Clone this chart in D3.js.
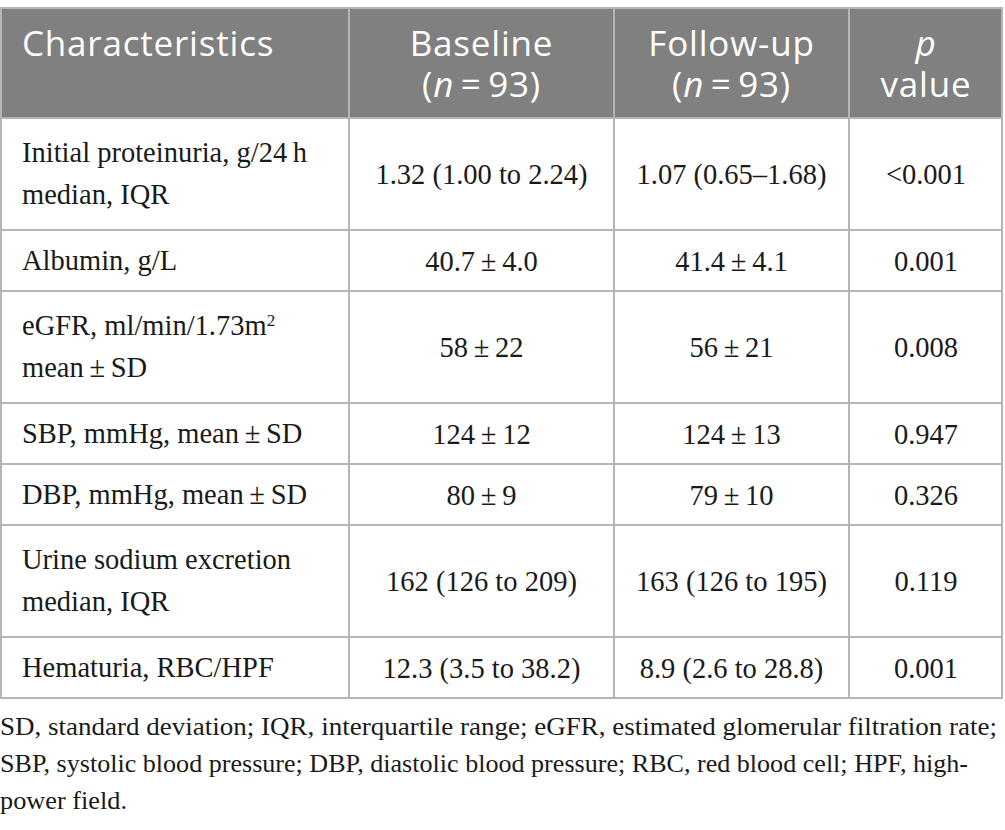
<!DOCTYPE html>
<html>
<head>
<meta charset="utf-8">
<script src="https://cdn.jsdelivr.net/npm/d3@7"></script>
<style>
    body { margin: 0; background: #fff; }
</style>
</head>
<body>
<div id="table"></div>
<script>
// table content, "*x*" marks italic, "^x" marks superscript
var headerLabels = [["Characteristics"], ["Baseline", "(*n*\u2009=\u200993)"], ["Follow-up", "(*n*\u2009=\u200993)"], ["*p*", "value"]];
var characteristics = [
    ["Initial proteinuria, g/24\u2009h", "median, IQR"],
    ["Albumin, g/L"],
    ["eGFR, ml/min/1.73m^2", "mean\u2009\u00b1\u2009SD"],
    ["SBP, mmHg, mean\u2009\u00b1\u2009SD"],
    ["DBP, mmHg, mean\u2009\u00b1\u2009SD"],
    ["Urine sodium excretion", "median, IQR"],
    ["Hematuria, RBC/HPF"]
];
var baselineValues = ["1.32 (1.00 to 2.24)", "40.7\u2009\u00b1\u20094.0", "58\u2009\u00b1\u200922", "124\u2009\u00b1\u200912",
    "80\u2009\u00b1\u20099", "162 (126 to 209)", "12.3 (3.5 to 38.2)"];
var followupValues = ["1.07 (0.65\u20131.68)", "41.4\u2009\u00b1\u20094.1", "56\u2009\u00b1\u200921", "124\u2009\u00b1\u200913",
    "79\u2009\u00b1\u200910", "163 (126 to 195)", "8.9 (2.6 to 28.8)"];
var pValues = ["<0.001", "0.001", "0.008", "0.947", "0.326", "0.119", "0.001"];
var footnoteLines = [
    "SD, standard deviation; IQR, interquartile range; eGFR, estimated glomerular filtration rate;",
    "SBP, systolic blood pressure; DBP, diastolic blood pressure; RBC, red blood cell; HPF, high-",
    "power field."
];

var width = 1005, height = 830;
var colEdges = [0, 349, 614, 849, 1003];
var tableTop = 8, headerHeight = 110;
var oneLineRow = 61, extraLine = 51, linePitch = 42;
var footWidths = [997, 968, 127];

var svg = d3.select("#table").append("svg")
    .attr("width", width)
    .attr("height", height);

// row geometry from line counts
var rowHeights = characteristics.map(function (c) { return oneLineRow + (c.length - 1) * extraLine; });
var rowTops = [tableTop + headerHeight];
rowHeights.forEach(function (h, i) { rowTops.push(rowTops[i] + h); });
var tableBottom = rowTops[rowTops.length - 1];

var colCenter = function (i) { return (colEdges[i] + colEdges[i + 1]) / 2; };

// writes a line with *italic* and ^sup markup into a text element
function richText(sel, str) {
    var parts = str.split(/(\*[^*]+\*|\^\w+)/).filter(function (p) { return p.length; });
    parts.forEach(function (p) {
        if (p[0] === "*") {
            sel.append("tspan").attr("font-style", "italic").text(p.slice(1, -1));
        } else if (p[0] === "^") {
            sel.append("tspan").attr("font-size", "0.6em").attr("dy", "-0.55em").text(p.slice(1));
        } else {
            sel.append("tspan").text(p);
        }
    });
}

// header
svg.append("rect")
    .attr("x", colEdges[0]).attr("y", tableTop)
    .attr("width", colEdges[4] - colEdges[0]).attr("height", headerHeight)
    .attr("fill", "#808080");

var head = svg.append("g").attr("class", "header")
    .attr("font-family", "'Open Sans', sans-serif")
    .attr("font-size", 35)
    .attr("letter-spacing", 0.8)
    .attr("fill", "#fff");

headerLabels.forEach(function (lines, i) {
    lines.forEach(function (line, j) {
        var t = head.append("text")
            .attr("x", i === 0 ? 22 : colCenter(i))
            .attr("y", tableTop + 48 + j * 41)
            .attr("text-anchor", i === 0 ? "start" : "middle");
        richText(t, line);
    });
});

// body
var body = svg.append("g").attr("class", "body")
    .attr("font-family", "'Liberation Serif', 'Times New Roman', serif")
    .attr("font-size", 28.5)
    .attr("fill", "#1a1a1a");

var valueCols = [baselineValues, followupValues, pValues];

characteristics.forEach(function (lines, r) {
    var mid = rowTops[r] + rowHeights[r] / 2;
    lines.forEach(function (line, j) {
        var t = body.append("text")
            .attr("x", 22)
            .attr("y", mid + (j - (lines.length - 1) / 2) * linePitch)
            .attr("dy", "0.33em");
        richText(t, line);
    });
    valueCols.forEach(function (col, c) {
        body.append("text")
            .attr("x", colCenter(c + 1))
            .attr("y", mid)
            .attr("dy", "0.36em")
            .attr("text-anchor", "middle")
            .text(col[r]);
    });
});

// grid lines
var grid = svg.append("g").attr("class", "grid")
    .attr("stroke", "#b5b5b5")
    .attr("stroke-width", 2)
    .attr("fill", "none");

grid.selectAll("line.h")
    .data([tableTop].concat(rowTops))
    .enter().append("line")
    .attr("class", "h")
    .attr("x1", colEdges[0]).attr("x2", colEdges[4])
    .attr("y1", function (d) { return d; })
    .attr("y2", function (d) { return d; });

grid.selectAll("line.v")
    .data(colEdges)
    .enter().append("line")
    .attr("class", "v")
    .attr("x1", function (d, i) { return i === 0 ? d + 1 : (i === 4 ? d - 1 : d); })
    .attr("x2", function (d, i) { return i === 0 ? d + 1 : (i === 4 ? d - 1 : d); })
    .attr("y1", tableTop)
    .attr("y2", tableBottom);

// footnote
svg.append("g").attr("class", "footnote")
    .attr("font-family", "'Liberation Serif', 'Times New Roman', serif")
    .attr("font-size", 26)
    .attr("fill", "#1a1a1a")
    .selectAll("text")
    .data(footnoteLines)
    .enter().append("text")
    .attr("x", 0)
    .attr("y", function (d, i) { return tableBottom + 37 + i * 37; })
    .attr("textLength", function (d, i) { return footWidths[i]; })
    .attr("lengthAdjust", "spacingAndGlyphs")
    .text(function (d) { return d; });
</script>
</body>
</html>
